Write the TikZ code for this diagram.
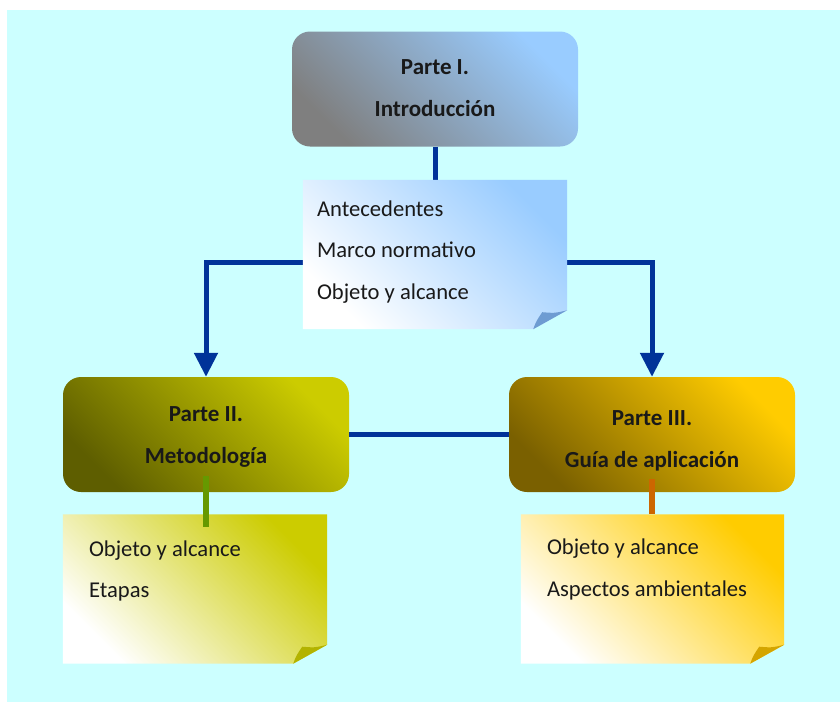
\documentclass[tikz,border=0pt]{standalone}
\usepackage{fontspec}
\setmainfont{Carlito}
\usetikzlibrary{arrows.meta,calc}

\definecolor{bgcyan}{HTML}{CCFFFF}
\definecolor{linkblue}{HTML}{003399}
\definecolor{stubgreen}{HTML}{669900}
\definecolor{stuborange}{HTML}{CC6600}
\definecolor{skyblue}{HTML}{99CCFF}
\definecolor{slategrey}{HTML}{7F7F7F}
\definecolor{olivelight}{HTML}{CCCC00}
\definecolor{olivedark}{HTML}{5E5E00}
\definecolor{goldlight}{HTML}{FFCC00}
\definecolor{golddark}{HTML}{7A6000}
\definecolor{flapblue}{HTML}{6E9CD2}
\definecolor{flapolive}{HTML}{B3B300}
\definecolor{flapgold}{HTML}{D4A500}

\tikzset{
  partbox/.style={rectangle, rounded corners=18pt, minimum width=286pt,
    minimum height=115pt, inner sep=0pt, align=center,
    font=\fontsize{23}{41.5}\selectfont\bfseries, text=black!90,
    shade, shading angle=-45},
  notearea/.style={rectangle, minimum width=264pt, minimum height=149pt,
    inner sep=0pt},
  notetext/.style={anchor=base west, inner sep=0pt, align=left,
    font=\fontsize{22.6}{41.5}\selectfont, text=black!90},
  link/.style={draw=linkblue, line width=5pt},
  stub/.style={line width=6pt},
}

% sticky-note page with a folded bottom-right corner
% #1 node name, #2 corner colour, #3 flap colour
\newcommand{\stickynote}[3]{%
  \path[shade, bottom color=white, top color=#2, shading angle=-45]
    (#1.north west) -- (#1.north east) -- ([yshift=19pt]#1.south east)
    -- ([xshift=-34pt]#1.south east) -- (#1.south west) -- cycle;
  \fill[#3] ([xshift=-34pt]#1.south east)
    .. controls ([xshift=-31pt,yshift=8pt]#1.south east) .. ([xshift=-25pt,yshift=17pt]#1.south east)
    .. controls ([xshift=-12pt,yshift=16pt]#1.south east) .. ([yshift=19pt]#1.south east)
    -- cycle;
}

\begin{document}
\begin{tikzpicture}[x=1pt,y=-1pt]
  \useasboundingbox (0,0) rectangle (840,702);
  \fill[bgcyan] (7,10) rectangle (840,702);

  % section boxes (text height is measured above the last line)
  \node[partbox, bottom color=slategrey, top color=skyblue, shading angle=-45,
        text height=56.5pt, text depth=2pt] (p1) at (435,89) {Parte I.\\Introducción};
  \node[partbox, bottom color=olivedark, top color=olivelight, shading angle=-45,
        text height=59.5pt, text depth=2pt] (p2) at (206,434.5) {Parte II.\\Metodología};
  \node[partbox, bottom color=golddark, top color=goldlight, shading angle=-45,
        text height=66.5pt, text depth=1pt] (p3) at (652,434.5) {Parte III.\\Guía de aplicación};

  % note areas
  \node[notearea] (n1) at (435,254.5) {};
  \node[notearea] (n2) at (195,589) {};
  \node[notearea, minimum width=263pt] (n3) at (652.5,589) {};

  % connectors between the parts
  \draw[link] (p1.south) -- (n1.north);
  \draw[link, -{Triangle[width=23pt,length=24pt]}]
    ([yshift=-7.5pt]n1.west) -| (p2.north);
  \draw[link, -{Triangle[width=23pt,length=24pt]}]
    ([yshift=-7.5pt]n1.east) -| (p3.north);
  \draw[link] (p2.east) -- (p3.west);

  % notes
  \stickynote{n1}{skyblue}{flapblue}
  \stickynote{n2}{olivelight}{flapolive}
  \stickynote{n3}{goldlight}{flapgold}

  \draw[stub, stubgreen] ([yshift=16pt]p2.south) -- ([yshift=-13pt]p2.south |- n2.north);
  \draw[stub, stuborange] ([yshift=13pt]p3.south) -- (p3.south |- n3.north);

  % note texts, placed by the baseline of their last line
  \node[notetext] (t1) at ($(n1.north west)+(14,299.5-180)$)
    {Antecedentes\\Marco normativo\\Objeto y alcance};
  \node[notetext] (t2) at ($(n2.north west)+(26,598.3-515)$)
    {Objeto y alcance\\Etapas};
  \node[notetext] (t3) at ($(n3.north west)+(26,596.7-515)$)
    {Objeto y alcance\\Aspectos ambientales};
\end{tikzpicture}
\end{document}
